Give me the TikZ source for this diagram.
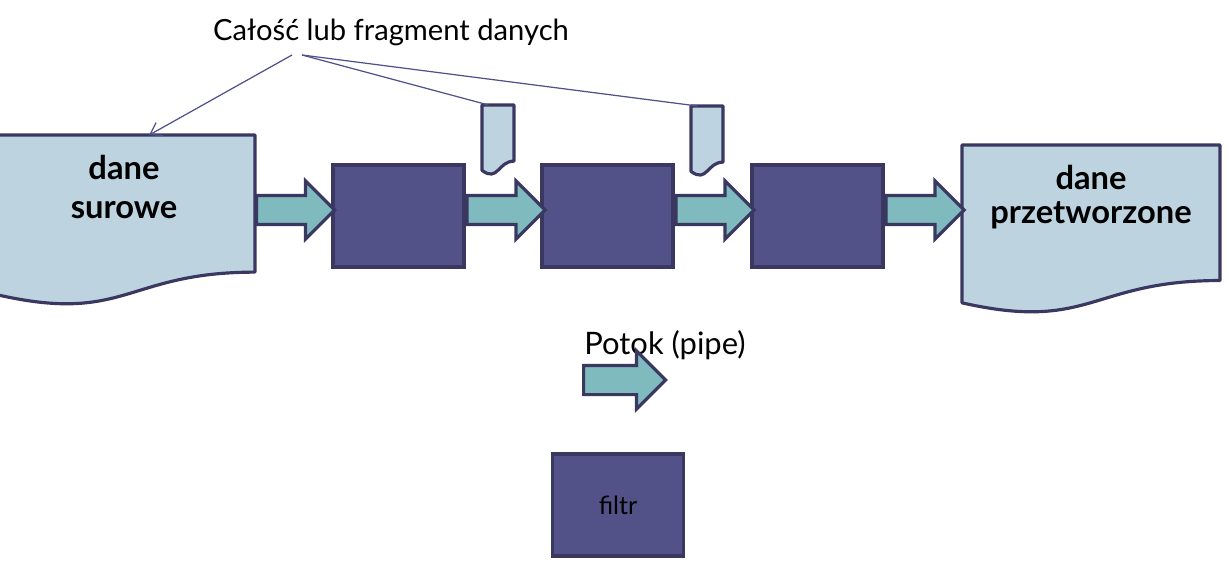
\documentclass[tikz,border=0pt]{standalone}
\usepackage{fontspec}
\setmainfont{Lato}
\usetikzlibrary{shapes.arrows,calc,arrows.meta}
\definecolor{jasny}{HTML}{BDD3E0}
\definecolor{obrys}{HTML}{3A3860}
\definecolor{fiolet}{HTML}{525288}
\definecolor{morski}{HTML}{7FBABE}
\definecolor{linia}{HTML}{50508C}
% ksztalt dokumentu (falisty dol) na podstawie prostokata wezla
\newcommand{\dokument}[1]{%
  \draw[dok] (#1.north west) -- (#1.north east)
    -- ($(#1.north east)!0.802!(#1.south east)$)
    .. controls ($(#1.north)!0.802!(#1.south)$) and ($(#1.north)!1.107!(#1.south)$)
    .. ($(#1.north west)!0.934!(#1.south west)$) -- cycle;}
\begin{document}
\begin{tikzpicture}[x=0.02cm, y=-0.02cm, >={Straight Barb[length=0.22cm,width=0.3cm]},
    dokbox/.style={rectangle, inner sep=0pt, outer sep=0pt},
    dok/.style={draw=obrys, fill=jasny, line width=1.8pt, line join=round},
    filtr/.style={draw=obrys, fill=fiolet, line width=1.8pt, rectangle,
      minimum width=2.62cm, minimum height=2.04cm, font=\fontsize{14.3}{17}\selectfont},
    potok/.style={single arrow, draw=obrys, fill=morski, line width=1.8pt,
      inner xsep=0pt, inner ysep=0.26cm, single arrow head extend=0.29cm,
      single arrow tip angle=90, single arrow head indent=0pt,
      minimum height=1.56cm, anchor=tail},
    cienka/.style={draw=linia, line width=0.7pt},
    napis/.style={font=\fontsize{16.6}{20}\selectfont}]
\useasboundingbox (0,0) rectangle (1229,564);
% os potoku
\coordinate (os) at (0,210);
% dane surowe
\node[dokbox, minimum width=5.16cm, minimum height=3.42cm] (sur) at (126,220.5) {};
\dokument{sur}
\node[font=\bfseries\fontsize{18.6}{22}\selectfont, align=center] (sur-txt) at (124,187) {dane\\surowe};
% dane przetworzone
\node[dokbox, minimum width=5.16cm, minimum height=3.38cm] (prz) at (1091,229.5) {};
\dokument{prz}
\node[font=\bfseries\fontsize{18.6}{19}\selectfont, align=center] (prz-txt) at (1091,197) {dane\\przetworzone};
% filtry
\node[filtr] (f1) at (398.5,216) {};
\node[filtr] (f2) at (607.5,216) {};
\node[filtr] (f3) at (817.5,216) {};
% fragmenty danych
\node[dokbox, minimum width=0.64cm, minimum height=1.4cm] (t1) at (498,140) {};
\dokument{t1}
\node[dokbox, minimum width=0.64cm, minimum height=1.4cm] (t2) at (707,141) {};
\dokument{t2}
% potoki miedzy elementami
\node[potok] (s1) at (sur.east |- os) {};
\node[potok] (s2) at (f1.east |- os) {};
\node[potok] (s3) at (f2.east |- os) {};
\node[potok] (s4) at (f3.east |- os) {};
% opis u gory
\node[napis] (opis) at (391,32) {Całość lub fragment danych};
\coordinate (p1) at (292,55);
\coordinate (p2) at (302,55);
\draw[cienka, ->] (p1) -- ($(sur.north west)!0.59!(sur.north east)$);
\draw[cienka] (p2) -- ($(t1.north west)!0.2!(t1.north east)$);
\draw[cienka] (p2) -- ($(t2.north west)!0.2!(t2.north east)$);
% legenda
\node[napis, font=\fontsize{17.6}{20}\selectfont] (leg-opis) at (665,345) {Potok (pipe)};
\node[potok, minimum height=1.64cm] (leg-p) at (582,380) {};
\node[filtr] (leg-f) at (618,505) {filtr};
\end{tikzpicture}
\end{document}
